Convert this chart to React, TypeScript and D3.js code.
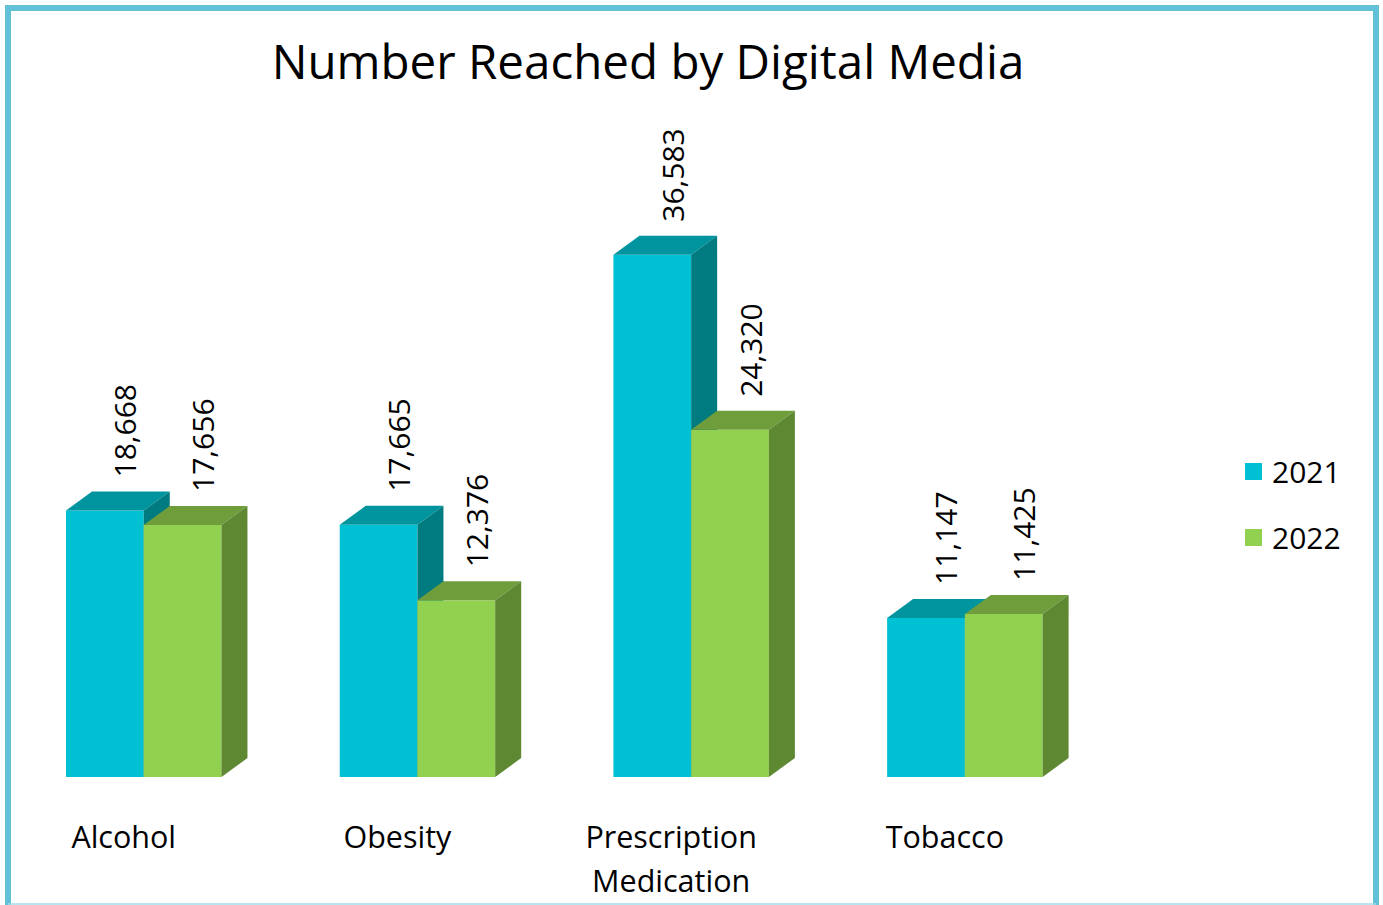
import React from "react";
import * as d3 from "d3";

const categories = ["Alcohol", "Obesity", "Prescription Medication", "Tobacco"];
const categoryLines = [["Alcohol"], ["Obesity"], ["Prescription", "Medication"], ["Tobacco"]];
const series = ["2021", "2022"];
const values2021 = [18668, 17665, 36583, 11147];
const values2022 = [17656, 12376, 24320, 11425];
const title = "Number Reached by Digital Media";

const W = 1383;
const H = 905;
const FONT = "'Open Sans', 'Noto Sans', sans-serif";

const palette = {
  "2021": { front: "#00C1D3", top: "#00949F", side: "#007B80" },
  "2022": { front: "#92D050", top: "#6F9D3C", side: "#5E8832" },
};

export default function App() {
  const baseY = 777;
  const dx = 26;
  const dy = -19;
  const y = d3.scaleLinear().domain([0, 40000]).range([baseY, 206]);
  const x = d3
    .scaleBand<string>()
    .domain(categories)
    .range([66, 1042.6])
    .paddingInner(0.432)
    .paddingOuter(0);
  const xs = d3.scaleBand<string>().domain(series).range([0, x.bandwidth()]);
  const fmt = d3.format(",");
  const seriesValues: Record<string, number[]> = { "2021": values2021, "2022": values2022 };

  return (
    <svg
      width={W}
      height={H}
      style={{ position: "absolute", left: 0, top: 0, background: "#fff" }}
      fontFamily={FONT}
    >
      <rect x={0} y={0} width={W} height={H} fill="#fff" />
      <rect x={8} y={8} width={1368} height={905} fill="none" stroke="#62C1D7" strokeWidth={6} />
      <line x1={8} x2={1376} y1={904} y2={904} stroke="#9FDCE8" strokeWidth={1.5} />

      <text x={648} y={79} textAnchor="middle" fontSize={47.5} fill="#000">
        {title}
      </text>

      {categories.map((c, i) => (
        <g key={c}>
          {series.map((s) => {
            const v = seriesValues[s][i];
            const x0 = (x(c) ?? 0) + (xs(s) ?? 0);
            const x1 = x0 + xs.bandwidth();
            const top = y(v);
            const col = palette[s as "2021" | "2022"];
            const topPts = [
              [x0, top],
              [x0 + dx, top + dy],
              [x1 + dx, top + dy],
              [x1, top],
            ];
            const sidePts = [
              [x1, top],
              [x1 + dx, top + dy],
              [x1 + dx, baseY + dy],
              [x1, baseY],
            ];
            return (
              <g key={s}>
                <rect x={x0} y={top} width={x1 - x0} height={baseY - top} fill={col.front} />
                <polygon points={topPts.map((p) => p.join(",")).join(" ")} fill={col.top} />
                <polygon points={sidePts.map((p) => p.join(",")).join(" ")} fill={col.side} />
              </g>
            );
          })}
        </g>
      ))}

      {categories.map((c, i) =>
        series.map((s) => {
          const v = seriesValues[s][i];
          const x0 = (x(c) ?? 0) + (xs(s) ?? 0);
          const cx = x0 + xs.bandwidth() / 2 + 21;
          const ty = y(v) - 33;
          return (
            <text
              key={c + s}
              transform={`translate(${cx},${ty}) rotate(-90)`}
              dy="0.35em"
              textAnchor="start"
              fontSize={30}
              fill="#000"
            >
              {fmt(v)}
            </text>
          );
        })
      )}

      {categories.map((c, i) => {
        const cx = (x(c) ?? 0) + x.bandwidth() / 2 - 20;
        return (
          <text key={c} x={cx} y={848} textAnchor="middle" fontSize={30.5} fill="#000">
            {categoryLines[i].map((ln, j) => (
              <tspan key={j} x={cx} dy={j === 0 ? 0 : 44}>
                {ln}
              </tspan>
            ))}
          </text>
        );
      })}

      {series.map((s, j) => (
        <g key={s} transform={`translate(1245,${463 + j * 66})`}>
          <rect x={0} y={0} width={17} height={17} fill={palette[s as "2021" | "2022"].front} />
          <text x={27} y={20} fontSize={30} fill="#000">
            {s}
          </text>
        </g>
      ))}
    </svg>
  );
}
